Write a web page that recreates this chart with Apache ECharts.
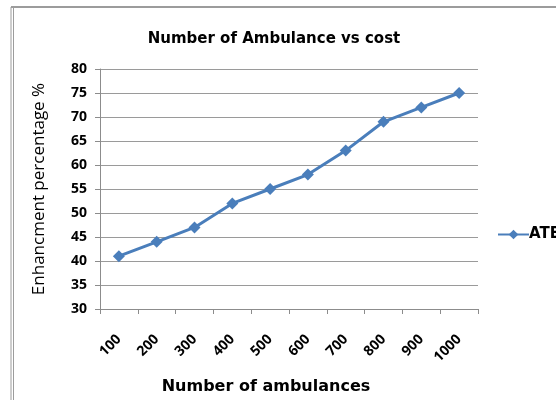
<!DOCTYPE html>
<html><head><meta charset="utf-8">
<script src="https://cdn.jsdelivr.net/npm/echarts@6/dist/echarts.min.js"></script>
<style>html,body{margin:0;padding:0;background:#fff}#c{width:556px;height:400px}</style>
</head><body><div id="c"></div>
<script>
const categories = ['100','200','300','400','500','600','700','800','900','1000'];
const ateValues = [41, 44, 47, 52, 55, 58, 63, 69, 72, 75];
const seriesName = 'ATE';
const chart = echarts.init(document.getElementById('c'), null, {renderer:'canvas'});
chart.setOption({
  animation:false,
  backgroundColor:'#fff',
  title:{text:'Number of Ambulance vs cost', left:269, top:27, textAlign:'center',
    textStyle:{fontFamily:'DejaVu Sans', fontWeight:'bold', fontSize:15, color:'#000'}},
  legend:{data:[seriesName], left:492, top:222, itemWidth:31, itemHeight:12,
    textStyle:{fontFamily:'DejaVu Sans', fontWeight:'bold', fontSize:15, color:'#000', padding:[0,0,0,-5]}},
  grid:{left:100, right:78, top:69, bottom:86, containLabel:false},
  xAxis:{type:'category', data:categories, boundaryGap:true,
    name:'Number of ambulances', nameLocation:'middle', nameGap:70,
    nameTextStyle:{fontFamily:'DejaVu Sans', fontWeight:'bold', fontSize:16, color:'#000', padding:[0,46,0,0]},
    axisLine:{lineStyle:{color:'#8c8c8c', width:1}},
    axisTick:{show:true, alignWithLabel:false, length:5, lineStyle:{color:'#8c8c8c'}},
    axisLabel:{rotate:45, interval:0, margin:28, fontFamily:'Open Sans', fontWeight:'bold', fontSize:14, color:'#000'},
    splitLine:{show:false}},
  yAxis:{type:'value', min:30, max:80, interval:5,
    name:'Enhancment percentage %', nameLocation:'middle', nameGap:52, nameRotate:90,
    nameTextStyle:{fontFamily:'Open Sans', fontSize:17, color:'#000'},
    axisLine:{show:true, lineStyle:{color:'#8c8c8c', width:1}},
    axisTick:{show:true, length:5, inside:false, lineStyle:{color:'#8c8c8c'}},
    axisLabel:{margin:13, fontFamily:'Open Sans', fontWeight:'bold', fontSize:14, color:'#000'},
    splitLine:{show:true, lineStyle:{color:'#9a9a9a', width:1}}},
  series:[{name:seriesName, type:'line', data:ateValues, symbol:'diamond', symbolSize:12,
    lineStyle:{color:'#4a7ebb', width:3}, itemStyle:{color:'#4a7ebb'}}],
  graphic:[
    {type:'line', shape:{x1:11,y1:7,x2:556,y2:7}, style:{stroke:'#9c9c9c', lineWidth:2}},
    {type:'line', shape:{x1:11,y1:7,x2:11,y2:400}, style:{stroke:'#9c9c9c', lineWidth:1}},
    {type:'line', shape:{x1:13.5,y1:7,x2:13.5,y2:400}, style:{stroke:'#9c9c9c', lineWidth:1}}
  ]
});
</script></body></html>
